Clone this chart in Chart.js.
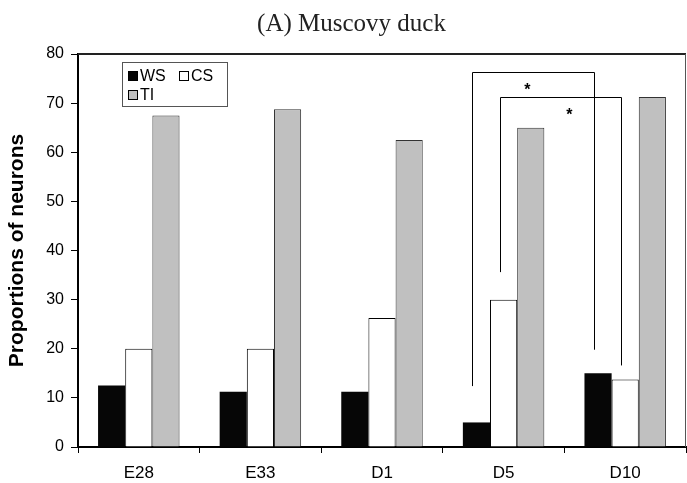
<!DOCTYPE html>
<html>
<head>
<meta charset="utf-8">
<script src="https://cdn.jsdelivr.net/npm/chart.js@4.4.0/dist/chart.umd.min.js"></script>
<style>
  html, body { margin: 0; padding: 0; background: #fff; }
  #wrap { width: 687px; height: 483px; }
</style>
</head>
<body>
<div id="wrap"><canvas id="chart"></canvas></div>
<script>
// Data
const categories = ['E28', 'E33', 'D1', 'D5', 'D10'];
const seriesNames = ['WS', 'CS', 'TI'];
const wsValues = [12.5, 11.25, 11.25, 5, 15];
const csValues = [20, 20, 26.25, 30, 13.75];
const tiValues = [67.5, 68.75, 62.5, 65, 71.25];
const yMin = 0, yMax = 80, yStep = 10;

// significance brackets: series, from/to category index, leg bottoms, top level
const brackets = [
  { series: 0, from: 3, to: 4, fromEnd: 12.4, toEnd: 19.8, top: 76.3, mark: '*' },
  { series: 1, from: 3, to: 4, fromEnd: 35.6, toEnd: 16.6, top: 71.3, mark: '*' }
];

const sans = '"Liberation Sans", Arial, sans-serif';

const extras = {
  id: 'extras',
  afterDatasetsDraw(chart) {
    const c = chart.ctx;
    const y = chart.scales.y;
    c.save();
    c.strokeStyle = '#000';
    c.lineWidth = 1;
    brackets.forEach((b, i) => {
      const meta = chart.getDatasetMeta(b.series);
      const b1 = meta.data[b.from], b2 = meta.data[b.to];
      const x1 = Math.round(b1.x - b1.width * 0.15) + 0.5;
      const x2 = Math.round(b2.x - b2.width * 0.15) + 0.5;
      const yt = Math.round(y.getPixelForValue(b.top)) + 0.5;
      c.beginPath();
      c.moveTo(x1, y.getPixelForValue(b.fromEnd));
      c.lineTo(x1, yt);
      c.lineTo(x2, yt);
      c.lineTo(x2, y.getPixelForValue(b.toEnd));
      c.stroke();
      c.fillStyle = '#000';
      c.font = 'bold 16px ' + sans;
      c.textAlign = 'center';
      c.textBaseline = 'middle';
      // first star sits left of centre, second right of centre
      const t = i === 0 ? 0.45 : 0.57;
      c.fillText(b.mark, x1 + (x2 - x1) * t, yt + 18);
    });
    c.restore();
  },
  afterDraw(chart) {
    const c = chart.ctx;
    const a = chart.chartArea;
    c.save();
    // frame top/right
    c.strokeStyle = '#222';
    c.lineWidth = 2;
    c.beginPath();
    c.moveTo(a.left, a.top);
    c.lineTo(a.right, a.top);
    c.stroke();
    c.lineWidth = 1;
    c.strokeStyle = '#555';
    c.beginPath();
    c.moveTo(a.right - 0.5, a.top);
    c.lineTo(a.right - 0.5, a.bottom);
    c.stroke();

    // title
    c.fillStyle = '#222';
    c.font = '25px "Liberation Serif", "Times New Roman", serif';
    c.textAlign = 'center';
    c.textBaseline = 'alphabetic';
    c.fillText('(A) Muscovy duck', chart.width / 2 + 8, 31);

    // legend box inside plot
    const lx = a.left + 44, ly = a.top + 8, lw = 105, lh = 44;
    c.fillStyle = '#fff';
    c.fillRect(lx, ly, lw, lh);
    c.strokeStyle = '#555';
    c.lineWidth = 1;
    c.strokeRect(lx + 0.5, ly + 0.5, lw, lh);
    const spots = [[lx + 6, ly + 9], [lx + 57, ly + 9], [lx + 6, ly + 28]];
    c.font = '16px ' + sans;
    c.textAlign = 'left';
    c.textBaseline = 'middle';
    chart.data.datasets.forEach((ds, i) => {
      const [sx, sy] = spots[i];
      c.fillStyle = ds.backgroundColor;
      c.fillRect(sx, sy, 10, 10);
      c.strokeStyle = '#000';
      c.strokeRect(sx + 0.5, sy + 0.5, 9, 9);
      c.fillStyle = '#000';
      c.fillText(ds.label, sx + 12, sy + 5.5);
    });
    c.restore();
  }
};

new Chart(document.getElementById('chart'), {
  type: 'bar',
  data: {
    labels: categories,
    datasets: [
      { label: seriesNames[0], data: wsValues, backgroundColor: '#060606', borderColor: '#000', borderWidth: 0 },
      { label: seriesNames[1], data: csValues, backgroundColor: '#ffffff', borderColor: '#000', borderWidth: 1 },
      { label: seriesNames[2], data: tiValues, backgroundColor: '#c0c0c0', borderColor: '#333', borderWidth: 1 }
    ]
  },
  options: {
    responsive: true,
    maintainAspectRatio: false,
    animation: false,
    datasets: { bar: { barPercentage: 1, categoryPercentage: 0.67 } },
    layout: { padding: { top: 54, right: 1, bottom: 0, left: 0 } },
    plugins: {
      legend: { display: false },
      title: { display: false },
      tooltip: { enabled: false }
    },
    scales: {
      x: {
        grid: { display: true, drawOnChartArea: false, color: '#000', tickLength: 6, offset: true },
        border: { display: true, color: '#000', width: 2 },
        ticks: { color: '#000', font: { family: sans, size: 17 }, padding: 10 },
        afterFit(s) { s.height = 36; }
      },
      y: {
        min: yMin,
        max: yMax,
        grid: { display: true, drawOnChartArea: false, color: '#000', tickLength: 7 },
        border: { display: true, color: '#000', width: 2 },
        ticks: { stepSize: yStep, color: '#000', font: { family: sans, size: 16 }, padding: 7 },
        title: {
          display: true,
          text: 'Proportions of neurons',
          color: '#000',
          font: { family: sans, size: 21, weight: 'bold' },
          padding: { top: 5, bottom: 0 }
        },
        afterFit(s) { s.width = 78; }
      }
    }
  },
  plugins: [extras]
});
</script>
</body>
</html>
